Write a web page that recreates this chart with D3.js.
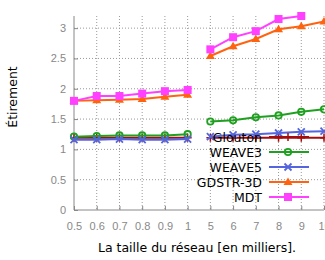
<!DOCTYPE html>
<html lang="fr">
<head>
<meta charset="utf-8">
<title>Etirement</title>
<script src="https://cdn.jsdelivr.net/npm/d3@7/dist/d3.min.js"></script>
<style>
  body { margin: 0; background: #fff; font-family: "DejaVu Sans", sans-serif; }
  .tick text { fill: #888; font-size: 11px; }
  .legend text { font-size: 12.5px; fill: #000; }
</style>
</head>
<body>
<div id="chart"></div>
<script>
// categories (two groups: 0.5..1 and 5..10 thousand nodes)
var sizes = ["0.5", "0.6", "0.7", "0.8", "0.9", "1", "5", "6", "7", "8", "9", "10"];
var groups = [[0, 1, 2, 3, 4, 5], [6, 7, 8, 9, 10, 11]];
var yTicks = [0, 0.5, 1, 1.5, 2, 2.5, 3];

// series values
var glouton = [1.19, 1.19, 1.19, 1.19, 1.19, 1.19, 1.19, 1.19, 1.19, 1.19, 1.19, 1.19];
var weave3  = [1.21, 1.22, 1.23, 1.23, 1.23, 1.25, 1.46, 1.48, 1.53, 1.56, 1.62, 1.66];
var weave5  = [1.16, 1.16, 1.17, 1.16, 1.16, 1.17, 1.21, 1.24, 1.25, 1.27, 1.29, 1.30];
var gdstr   = [1.80, 1.81, 1.82, 1.83, 1.87, 1.90, 2.54, 2.70, 2.82, 2.98, 3.03, 3.11];
var mdt     = [1.80, 1.88, 1.88, 1.92, 1.96, 1.98, 2.65, 2.85, 2.95, 3.15, 3.20, null];

var series = [
  {name: "Glouton",  values: glouton, color: "#a50d0d", marker: "plus"},
  {name: "WEAVE3",   values: weave3,  color: "#20a020", marker: "circle"},
  {name: "WEAVE5",   values: weave5,  color: "#5565dd", marker: "cross"},
  {name: "GDSTR-3D", values: gdstr,   color: "#ff6310", marker: "triangle"},
  {name: "MDT",      values: mdt,     color: "#ff40ff", marker: "square"}
];

var margin = {top: 16, right: 1, bottom: 50, left: 74},
    width = 325 - margin.left - margin.right,
    height = 260 - margin.top - margin.bottom;

var svg = d3.select("#chart").append("svg")
  .attr("width", 325).attr("height", 260)
  .append("g")
  .attr("transform", "translate(" + margin.left + "," + margin.top + ")");

var x = d3.scalePoint().domain(sizes).range([0, 250]);
var y = d3.scaleLinear().domain([0, 3.2]).range([height, 0]);

// grid
svg.append("g").selectAll("line").data(yTicks.slice(1)).enter().append("line")
  .attr("x1", 0).attr("x2", width)
  .attr("y1", function(d) { return y(d); }).attr("y2", function(d) { return y(d); })
  .attr("stroke", "#999").attr("stroke-width", 1).attr("stroke-dasharray", "1,2");
svg.append("g").selectAll("line").data(sizes.slice(1)).enter().append("line")
  .attr("x1", function(d) { return x(d); }).attr("x2", function(d) { return x(d); })
  .attr("y1", 0).attr("y2", height)
  .attr("stroke", "#999").attr("stroke-width", 1).attr("stroke-dasharray", "1,2");

// axes
var xAxis = svg.append("g")
  .attr("transform", "translate(0," + height + ")")
  .call(d3.axisBottom(x).tickSize(-4).tickPadding(12));
var yAxis = svg.append("g")
  .call(d3.axisLeft(y).tickValues(yTicks).tickSize(-4).tickPadding(8)
    .tickFormat(function(d) { return d3.format("")(d); }));
xAxis.select(".domain").attr("stroke", "#888").attr("d", "M0,0H" + width);
yAxis.select(".domain").attr("stroke", "#888").attr("d", "M0," + height + "V0");
svg.selectAll(".tick line").attr("stroke", "#888");

// marker drawing
function drawMarker(g, type, color, cx, cy) {
  if (type === "plus") {
    g.append("path").attr("d", "M" + (cx - 4) + "," + cy + "h8M" + cx + "," + (cy - 4) + "v8")
      .attr("stroke", color).attr("stroke-width", 1.5).attr("fill", "none");
  } else if (type === "circle") {
    g.append("circle").attr("cx", cx).attr("cy", cy).attr("r", 3.2)
      .attr("stroke", color).attr("stroke-width", 1.8).attr("fill", "none");
  } else if (type === "cross") {
    g.append("path").attr("d", "M" + (cx - 3.5) + "," + (cy - 3.5) + "l7,7M" + (cx - 3.5) + "," + (cy + 3.5) + "l7,-7")
      .attr("stroke", color).attr("stroke-width", 1.8).attr("fill", "none");
  } else if (type === "triangle") {
    g.append("path").attr("d", "M" + cx + "," + (cy - 4.5) + "L" + (cx + 4.5) + "," + (cy + 3) + "L" + (cx - 4.5) + "," + (cy + 3) + "Z")
      .attr("fill", color);
  } else if (type === "square") {
    g.append("rect").attr("x", cx - 4).attr("y", cy - 4).attr("width", 8).attr("height", 8)
      .attr("fill", color);
  }
}

var line = d3.line()
  .defined(function(d) { return d.v !== null; })
  .x(function(d) { return x(d.c); })
  .y(function(d) { return y(d.v); });

series.forEach(function(s) {
  var g = svg.append("g");
  groups.forEach(function(idx) {
    var pts = idx.map(function(i) { return {c: sizes[i], v: s.values[i]}; });
    g.append("path").datum(pts)
      .attr("d", line)
      .attr("fill", "none").attr("stroke", s.color).attr("stroke-width", 2);
    pts.forEach(function(p) {
      if (p.v !== null) drawMarker(g, s.marker, s.color, x(p.c), y(p.v));
    });
  });
});

// legend
var legend = svg.append("g").attr("class", "legend");
series.forEach(function(s, i) {
  var ly = 121 + i * 15;
  legend.append("text").attr("x", 188).attr("y", ly + 4.5)
    .attr("text-anchor", "end").text(s.name);
  legend.append("line").attr("x1", 195).attr("x2", 235).attr("y1", ly).attr("y2", ly)
    .attr("stroke", s.color).attr("stroke-width", 2);
  drawMarker(legend, s.marker, s.color, 214, ly);
});

// axis labels
svg.append("text")
  .attr("transform", "translate(-57," + (height / 2 - 16) + ") rotate(-90)")
  .attr("text-anchor", "middle")
  .style("font-size", "12.5px")
  .text("Étirement");
svg.append("text")
  .attr("x", 123).attr("y", height + 42)
  .attr("text-anchor", "middle")
  .style("font-size", "12.5px")
  .text("La taille du réseau [en milliers].");
</script>
</body>
</html>
